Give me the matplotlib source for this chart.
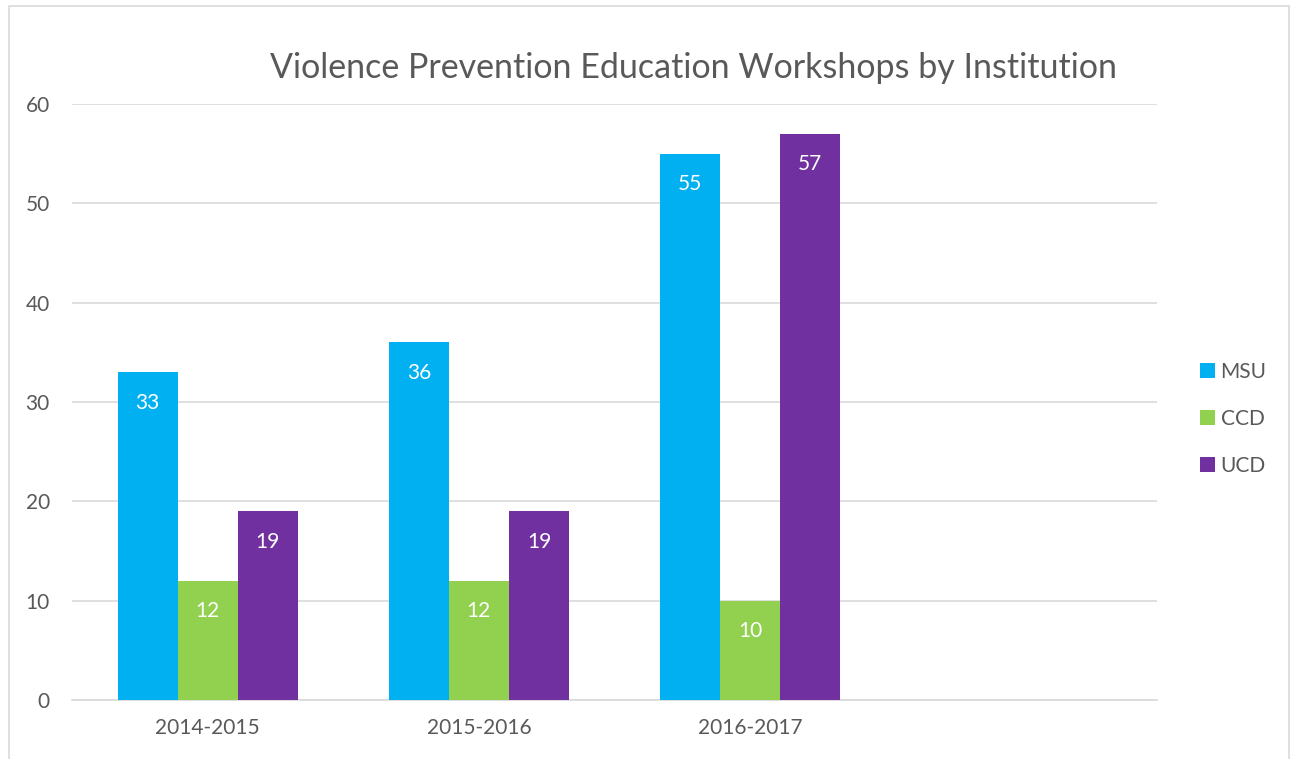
import matplotlib
matplotlib.use("Agg")
import matplotlib.pyplot as plt
from matplotlib.patches import Rectangle
import numpy as np

categories = ["2014-2015", "2015-2016", "2016-2017", ""]
series_names = ["MSU", "CCD", "UCD"]
msu = [33, 36, 55, None]
ccd = [12, 12, 10, None]
ucd = [19, 19, 57, None]
colors = ["#00B0F0", "#92D050", "#7030A0"]

plt.rcParams['font.family'] = ['Lato', 'DejaVu Sans']
TXT = "#595959"

W, H = 1291, 759
fig = plt.figure(figsize=(W/100, H/100), dpi=100)
fig.patches.append(Rectangle((9/W, -0.01), (1289-9)/W, 1 - 6/H + 0.01, transform=fig.transFigure,
                             fill=False, edgecolor="#D9D9D9", linewidth=1.2))
ax = fig.add_axes([72/W, (H-700)/H, (1157-72)/W, (700-104)/H])

x = np.arange(len(categories))
bw = 60/271
for i, (name, vals, c) in enumerate(zip(series_names, [msu, ccd, ucd], colors)):
    xs = [xi + (i-1)*bw for xi, v in zip(x, vals) if v is not None]
    vs = [v for v in vals if v is not None]
    bars = ax.bar(xs, vs, width=bw, color=c, label=name, zorder=3)
    for b, v in zip(bars, vs):
        ax.annotate(str(v), (b.get_x() + b.get_width()/2, v), xytext=(0, -22),
                    textcoords="offset points", ha="center", va="center",
                    color="white", fontsize=15, zorder=4)

ax.set_xlim(-0.5, len(categories)-0.5)
ax.set_ylim(0, 60)
ax.set_yticks(range(0, 61, 10))
ax.set_xticks(x)
ax.set_xticklabels(categories)
ax.yaxis.grid(True, color="#D9D9D9", linewidth=1.2, zorder=0)
for s in ["top", "right", "left"]:
    ax.spines[s].set_visible(False)
ax.spines["bottom"].set_color("#D9D9D9")
ax.spines["bottom"].set_linewidth(1.2)
ax.tick_params(axis="both", length=0, colors=TXT, labelsize=15)
ax.tick_params(axis="y", pad=16)
ax.tick_params(axis="x", pad=13)

fig.text(693/W, 1 - 68/H, "Violence Prevention Education Workshops by Institution",
         ha="center", va="center", fontsize=24.5, color=TXT)

leg = fig.legend(loc="center left", bbox_to_anchor=(1181/W, 1 - 419/H), frameon=False,
                 fontsize=15, handlelength=0.75, handleheight=0.75, labelspacing=1.3,
                 handletextpad=0.25, labelcolor=TXT)

fig.savefig("out.png", dpi=100)
